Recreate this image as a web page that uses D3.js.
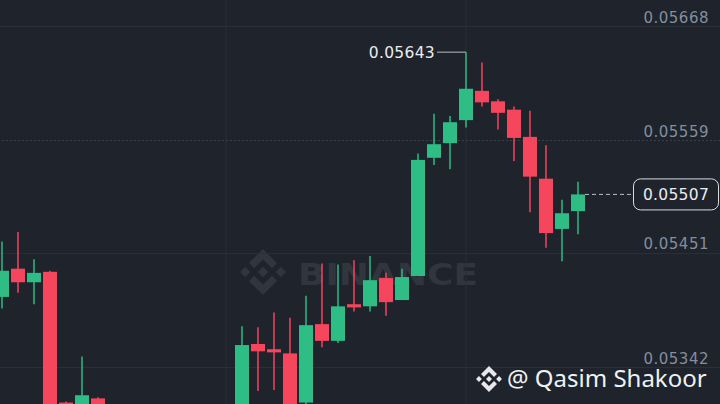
<!DOCTYPE html>
<html>
<head>
<meta charset="utf-8">
<script src="https://cdn.jsdelivr.net/npm/d3@7"></script>
<style>
  html, body { margin: 0; padding: 0; background: #1e232c; }
  svg { display: block; }
</style>
</head>
<body>
<script>
// OHLC values, one entry per candle (left to right)
var opens  = [0.05409, 0.05436, 0.05423, 0.05433, 0.05308, 0.05292, 0.05312, 0.05293, 0.05281, 0.05286,
              0.05294, 0.05284, 0.05278, 0.05291, 0.05288, 0.05297, 0.05364, 0.05359, 0.05355, 0.05308,
              0.05383, 0.05367, 0.05402, 0.05400, 0.05427, 0.05406, 0.05429, 0.05542, 0.05556, 0.05578,
              0.05606, 0.05596, 0.05588, 0.05562, 0.05522, 0.05474, 0.05491];
var highs  = [0.05462, 0.05471, 0.05445, 0.05434, 0.05309, 0.05352, 0.05313, 0.05299, 0.05290, 0.05298,
              0.05301, 0.05292, 0.05295, 0.05300, 0.05302, 0.05381, 0.05380, 0.05394, 0.05389, 0.05410,
              0.05441, 0.05440, 0.05444, 0.05448, 0.05432, 0.05436, 0.05546, 0.05584, 0.05582, 0.05643,
              0.05633, 0.05598, 0.05591, 0.05587, 0.05554, 0.05502, 0.05519];
var lows   = [0.05398, 0.05413, 0.05402, 0.05288, 0.05282, 0.05286, 0.05285, 0.05276, 0.05270, 0.05278,
              0.05280, 0.05272, 0.05274, 0.05283, 0.05281, 0.05290, 0.05319, 0.05320, 0.05296, 0.05306,
              0.05361, 0.05365, 0.05395, 0.05395, 0.05391, 0.05406, 0.05429, 0.05535, 0.05531, 0.05571,
              0.05591, 0.05569, 0.05539, 0.05490, 0.05456, 0.05443, 0.05469];
var closes = [0.05434, 0.05423, 0.05432, 0.05298, 0.05290, 0.05315, 0.05293, 0.05281, 0.05286, 0.05294,
              0.05284, 0.05278, 0.05291, 0.05288, 0.05297, 0.05363, 0.05357, 0.05356, 0.05302, 0.05382,
              0.05367, 0.05400, 0.05399, 0.05425, 0.05404, 0.05428, 0.05540, 0.05555, 0.05576, 0.05608,
              0.05595, 0.05585, 0.05561, 0.05524, 0.05470, 0.05489, 0.05507];

// price axis ticks, last price and the marked high
var priceTicks = [0.05342, 0.05451, 0.05559, 0.05668];
var dashedTick = 0.05559;
var lastPrice = 0.05507;
var peakPrice = 0.05643;
var peakIndex = 29;
// candles where the vertical grid lines sit
var gridCandles = [14, 29];

var width = 720, height = 404;
var bg = '#1e232c';
var up = '#2ebd85', down = '#f6465d', gridColor = '#2a2f38';

var candles = opens.map(function(o, i) {
  return {i: i, open: o, high: highs[i], low: lows[i], close: closes[i]};
});

var svg = d3.select('body').append('svg')
  .attr('width', width)
  .attr('height', height);

svg.append('rect')
  .attr('width', width)
  .attr('height', height)
  .attr('fill', bg);

var x = d3.scaleBand()
  .domain(d3.range(candles.length))
  .range([-6, 586])
  .paddingInner(0.125)
  .paddingOuter(0.0625);

var y = d3.scaleLinear()
  .domain([0.05342, 0.05668])
  .range([367, 26]);

function cx(i) { return x(i) + x.bandwidth() / 2; }

// Binance logo shape, drawn in a 126.61 box
function drawLogo(g, size, color) {
  var s = size / 126.61;
  var lg = g.append('g').attr('transform', 'scale(' + s + ')').attr('fill', color);
  lg.append('path').attr('d', 'M38.73,53.2L63.3,28.64L87.88,53.22L102.18,38.92L63.3,0L24.43,38.87Z');
  lg.append('path').attr('d', 'M38.73,73.41L63.3,98L87.88,73.42L102.18,87.71L63.3,126.61L24.43,87.75Z');
  lg.append('path').attr('d', 'M0,63.3L14.3,49L28.6,63.3L14.3,77.6Z');
  lg.append('path').attr('d', 'M98,63.3L112.3,49L126.61,63.3L112.3,77.6Z');
  lg.append('path').attr('d', 'M63.3,48.78L77.83,63.3L63.3,77.83L48.78,63.3Z');
}

// watermark behind everything
var wm = svg.append('g').attr('class', 'watermark');
var wmLogo = wm.append('g').attr('transform', 'translate(240,249)');
drawLogo(wmLogo, 46, '#30353e');
wm.append('text')
  .attr('x', 298)
  .attr('y', 285)
  .attr('fill', '#30353e')
  .attr('font-family', 'DejaVu Sans, sans-serif')
  .attr('font-weight', 'bold')
  .attr('font-size', 31)
  .attr('textLength', 180)
  .attr('lengthAdjust', 'spacingAndGlyphs')
  .text('BINANCE');

// horizontal grid + price labels
var axis = svg.append('g')
  .attr('transform', 'translate(' + width + ',0)')
  .call(d3.axisRight(y).tickValues(priceTicks).tickSize(-width).tickFormat(d3.format('.5f')));
axis.select('.domain').remove();
axis.selectAll('.tick line')
  .attr('stroke', function(d) { return d === dashedTick ? '#3a404a' : gridColor; })
  .attr('stroke-dasharray', function(d) { return d === dashedTick ? '2,2' : null; });
axis.selectAll('.tick text')
  .attr('x', -11)
  .attr('dy', -4)
  .attr('text-anchor', 'end')
  .attr('fill', '#848e9c')
  .attr('font-family', 'DejaVu Sans, sans-serif')
  .attr('font-size', 15)
  .attr('letter-spacing', 0.5);

// vertical grid
svg.append('g').selectAll('line')
  .data(gridCandles)
  .enter().append('line')
  .attr('x1', function(d) { return cx(d); })
  .attr('x2', function(d) { return cx(d); })
  .attr('y1', 0)
  .attr('y2', height)
  .attr('stroke', gridColor);

// candles
var c = svg.append('g').selectAll('g.candle')
  .data(candles)
  .enter().append('g')
  .attr('class', 'candle');

c.append('line')
  .attr('x1', function(d) { return cx(d.i); })
  .attr('x2', function(d) { return cx(d.i); })
  .attr('y1', function(d) { return y(d.high); })
  .attr('y2', function(d) { return y(d.low); })
  .attr('stroke', function(d) { return d.close >= d.open ? up : down; })
  .attr('stroke-width', 1.5);

c.append('rect')
  .attr('x', function(d) { return x(d.i); })
  .attr('width', x.bandwidth())
  .attr('y', function(d) { return y(Math.max(d.open, d.close)); })
  .attr('height', function(d) { return Math.max(1.5, Math.abs(y(d.open) - y(d.close))); })
  .attr('fill', function(d) { return d.close >= d.open ? up : down; });

// high marker
var py = y(peakPrice);
svg.append('line')
  .attr('x1', 437).attr('x2', cx(peakIndex))
  .attr('y1', py).attr('y2', py)
  .attr('stroke', '#b7bdc6')
  .attr('stroke-width', 1);
svg.append('text')
  .attr('x', 435)
  .attr('y', py + 6)
  .attr('text-anchor', 'end')
  .attr('fill', '#eaecef')
  .attr('font-family', 'DejaVu Sans, sans-serif')
  .attr('font-size', 15.5)
  .attr('letter-spacing', 0.3)
  .text(d3.format('.5f')(peakPrice));

// last price line + box
var ly = y(lastPrice);
svg.append('line')
  .attr('x1', cx(candles.length - 1) + x.bandwidth() / 2)
  .attr('x2', 633)
  .attr('y1', ly).attr('y2', ly)
  .attr('stroke', '#b7bdc6')
  .attr('stroke-dasharray', '4,3');
svg.append('rect')
  .attr('x', 633.5).attr('y', ly - 15.5)
  .attr('width', 85).attr('height', 31)
  .attr('rx', 7)
  .attr('fill', bg)
  .attr('stroke', '#d8dbe0')
  .attr('stroke-width', 1);
svg.append('text')
  .attr('x', 676)
  .attr('y', ly + 6)
  .attr('text-anchor', 'middle')
  .attr('fill', '#eaecef')
  .attr('font-family', 'DejaVu Sans, sans-serif')
  .attr('font-size', 15.5)
  .attr('letter-spacing', 0.3)
  .text(d3.format('.5f')(lastPrice));

// author tag
var tag = svg.append('g');
var tagLogo = tag.append('g').attr('transform', 'translate(476,366)');
drawLogo(tagLogo, 26, '#e6e8ea');
tag.append('text')
  .attr('x', 507)
  .attr('y', 387)
  .attr('fill', '#f0f1f2')
  .attr('font-family', 'Noto Sans, sans-serif')
  .attr('font-size', 24)
  .text('@ Qasim Shakoor');
</script>
</body>
</html>
